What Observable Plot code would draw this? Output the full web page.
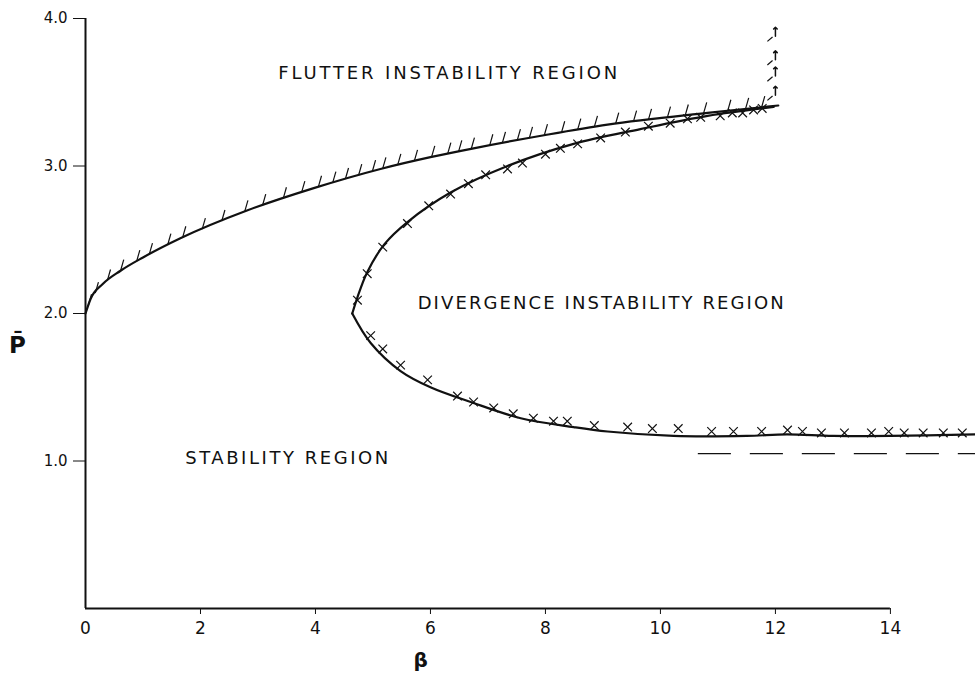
<!DOCTYPE html>
<html><head><meta charset="utf-8">
<script src="https://cdn.jsdelivr.net/npm/d3@7"></script>
<script src="https://cdn.jsdelivr.net/npm/@observablehq/plot@0.6"></script>
<style>body{margin:0;background:#fff} #chart{width:975px;height:673px}</style>
</head><body><div id="chart"></div>
<script>
// ---- data ----
const xTicks = [0, 2, 4, 6, 8, 10, 12, 14];
const yTicks = [1, 2, 3, 4];

// flutter stability boundary
const flutterBeta = [0, 0.09, 0.3, 0.61, 1.0, 1.65, 2.82, 3.97, 5.13, 6.0, 6.75, 8.0, 9.08, 10.82, 12.05];
const flutterP    = [2.0, 2.10, 2.20, 2.29, 2.38, 2.51, 2.70, 2.85, 2.98, 3.06, 3.12, 3.21, 3.28, 3.36, 3.41];

// divergence boundary, upper branch (from the nose upward)
const divUpBeta = [4.64, 4.73, 4.90, 5.2, 5.6, 6.35, 7.34, 8.49, 9.65, 10.82, 11.97];
const divUpP    = [2.0, 2.11, 2.28, 2.47, 2.62, 2.82, 3.0, 3.15, 3.25, 3.34, 3.40];

// divergence boundary, lower branch (from the nose downward)
const divLoBeta = [4.64, 4.96, 5.48, 6.0, 6.7, 7.57, 8.49, 9.08, 10.23, 11.5, 12.2, 13.0, 14.0, 15.48];
const divLoP    = [2.0, 1.80, 1.61, 1.50, 1.40, 1.29, 1.23, 1.20, 1.17, 1.17, 1.18, 1.17, 1.17, 1.18];

// asymptote (dashed)
const asymBeta = [10.66, 15.48];
const asymP    = [1.05, 1.05];

// hatch positions along the flutter boundary
const hatchBeta = [0.05, 0.17, 0.38, 0.61, 0.89, 1.11, 1.43, 1.69, 2.03, 2.37, 2.77, 3.08, 3.44, 3.76, 4.05, 4.30, 4.52, 4.75, 4.99, 5.17, 5.43, 5.72, 6.02, 6.30, 6.49, 6.71, 7.03, 7.25, 7.51, 7.72, 7.98, 8.28, 8.56, 8.85, 9.22, 9.53, 9.79, 10.12, 10.43, 10.75, 11.17, 11.48, 11.76];

// "x" hatching along the divergence boundary
const crossUpBeta = [4.73, 4.90, 5.17, 5.60, 5.97, 6.35, 6.66, 6.96, 7.34, 7.60, 8.00, 8.26, 8.56, 8.96, 9.39, 9.79, 10.17, 10.47, 10.70, 11.04, 11.25, 11.43, 11.62, 11.77];
const crossUpP    = [2.09, 2.27, 2.45, 2.61, 2.73, 2.81, 2.88, 2.94, 2.98, 3.02, 3.08, 3.12, 3.15, 3.19, 3.23, 3.27, 3.29, 3.32, 3.33, 3.34, 3.36, 3.36, 3.38, 3.39];
const crossLoBeta = [4.96, 5.17, 5.48, 5.95, 6.47, 6.75, 7.10, 7.44, 7.79, 8.14, 8.38, 8.85, 9.43, 9.86, 10.31, 10.89, 11.27, 11.76, 12.21, 12.47, 12.80, 13.20, 13.67, 13.97, 14.24, 14.57, 14.92, 15.25];
const crossLoP    = [1.85, 1.76, 1.65, 1.55, 1.44, 1.40, 1.36, 1.32, 1.29, 1.27, 1.27, 1.24, 1.23, 1.22, 1.22, 1.20, 1.20, 1.20, 1.21, 1.20, 1.19, 1.19, 1.19, 1.20, 1.19, 1.19, 1.19, 1.19];

// arrows above the end of the flutter boundary
const arrowBeta = [12.0, 12.0, 12.0, 12.0];
const arrowP    = [3.48, 3.61, 3.72, 3.88];

// region labels
const regionText = ["FLUTTER INSTABILITY REGION", "DIVERGENCE INSTABILITY REGION", "STABILITY REGION"];
const regionBeta = [6.30, 8.96, 3.50];
const regionP    = [3.63, 2.07, 1.02];
const regionLen  = [339, 366, 203];

// ---- build tables ----
const zip = (a, b) => a.map((v, i) => ({b: v, p: b[i]}));
const flutter = zip(flutterBeta, flutterP);
const divUp = zip(divUpBeta, divUpP);
const divLo = zip(divLoBeta, divLoP);
const asym = zip(asymBeta, asymP);
const crosses = zip(crossUpBeta, crossUpP).concat(zip(crossLoBeta, crossLoP));
const arrows = zip(arrowBeta, arrowP);
const regions = regionText.map((t, i) => ({t, b: regionBeta[i], p: regionP[i], len: regionLen[i]}));
const onFlutter = d3.scaleLinear(flutterBeta, flutterP);
const ink = "#111";

const chart = Plot.plot({
  width: 975, height: 673,
  marginLeft: 85, marginRight: 0, marginTop: 18, marginBottom: 65,
  x: {domain: [0, 15.48], ticks: xTicks.filter(d => d > 0), tickSize: 6, tickFormat: () => "", label: null},
  y: {domain: [0, 4], ticks: yTicks, tickSize: 12, tickFormat: () => "", label: null},
  style: {background: "#fff", color: ink, fontFamily: "DejaVu Sans, sans-serif"},
  marks: [
    Plot.ruleX([0], {y1: 0, y2: 4, stroke: ink, strokeWidth: 2}),
    Plot.ruleY([0], {x1: 0, x2: 14, stroke: ink, strokeWidth: 2}),
    Plot.line(asym, {x: "b", y: "p", stroke: ink, strokeWidth: 1.4, strokeDasharray: "32,20"}),
    Plot.link(hatchBeta, {x1: d => d, y1: d => onFlutter(d), x2: d => d + 0.055, y2: d => onFlutter(d) + 0.075, stroke: ink, strokeWidth: 1.2}),
    Plot.dot(crosses, {x: "b", y: "p", symbol: "times", r: 4, stroke: ink, strokeWidth: 1.2}),
    Plot.line(flutter, {x: "b", y: "p", curve: "monotone-x", stroke: ink, strokeWidth: 2.2}),
    Plot.line(divUp, {x: "b", y: "p", curve: "catmull-rom", stroke: ink, strokeWidth: 2.2}),
    Plot.line(divLo, {x: "b", y: "p", curve: "catmull-rom", stroke: ink, strokeWidth: 2.2}),
    Plot.vector(arrows, {x: "b", y: "p", length: 9, rotate: 0, anchor: "start", stroke: ink, strokeWidth: 1.5}),
    Plot.link(arrows, {x1: d => d.b - 0.14, y1: d => d.p - 0.035, x2: d => d.b - 0.05, y2: d => d.p - 0.005, stroke: ink, strokeWidth: 1.2}),
    // tick labels
    Plot.text(xTicks, {x: d => d, y: () => 0, dy: 20, text: d => String(d), fontSize: 17, fill: ink}),
    Plot.text(yTicks, {x: () => 0, y: d => d, dx: -18, textAnchor: "end", text: d => d3.format(".1f")(d), fontSize: 15, fill: ink}),
    // axis labels
    Plot.text(["P\u0304"], {x: () => 0, y: () => 1.78, dx: -68, text: d => d, fontSize: 23, fontWeight: "bold", fill: ink}),
    Plot.text(["\u03B2"], {x: () => 5.83, y: () => 0, dy: 52, text: d => d, fontSize: 20, fontWeight: "bold", fill: ink}),
    // region labels
    Plot.text(regions, {x: "b", y: "p", text: "t", fontSize: 18, fill: ink})
  ]
});
document.getElementById("chart").appendChild(chart);
const lens = new Map(regions.map(r => [r.t, r.len]));
d3.select(chart).selectAll("text").each(function() {
  const L = lens.get(this.textContent);
  if (L) d3.select(this).attr("textLength", L).attr("lengthAdjust", "spacing");
});
</script>
</body></html>
